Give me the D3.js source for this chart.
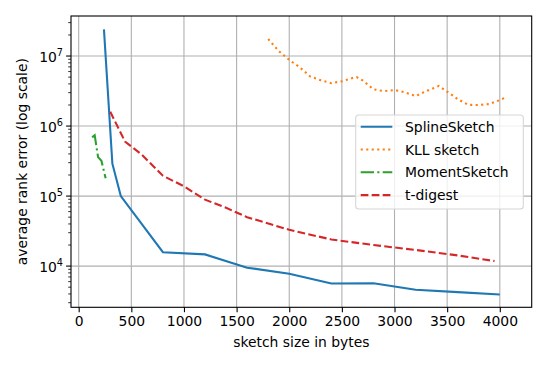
<!DOCTYPE html>
<html>
<head>
<meta charset="utf-8">
<script src="https://cdn.jsdelivr.net/npm/d3@7"></script>
<style>
  html, body { margin: 0; padding: 0; background: #fff; }
  svg { display: block; font-family: "DejaVu Sans", sans-serif; }
</style>
</head>
<body>
<svg id="chart"></svg>
<script>
// values
const splineX = [240, 320, 400, 800, 1200, 1600, 2000, 2400, 2800, 3200, 3600, 4000];
const splineY = [2.4e7, 2.9e5, 1.0e5, 1.58e4, 1.47e4, 9.5e3, 7.8e3, 5.65e3, 5.7e3, 4.6e3, 4.25e3, 3.93e3];

const kllX = [1800, 1900, 2000, 2100, 2200, 2300, 2400, 2500, 2600, 2640, 2700, 2800, 2900,
  3000, 3100, 3200, 3300, 3420, 3500, 3600, 3700, 3800, 3900, 4000, 4070];
const kllY = [1.75e7, 1.18e7, 8.8e6, 6.9e6, 5.1e6, 4.5e6, 4.1e6, 4.35e6, 4.85e6, 5.0e6, 4.45e6, 3.35e6, 3.15e6,
  3.27e6, 3.03e6, 2.68e6, 3.15e6, 3.73e6, 3.1e6, 2.43e6, 2.01e6, 2.0e6, 2.06e6, 2.35e6, 2.62e6];

const momentX = [128, 152, 184, 216, 256];
const momentY = [6.9e5, 7.4e5, 3.6e5, 3.2e5, 1.8e5];

const tdigestX = [300, 440, 600, 800, 1000, 1200, 1400, 1600, 2000, 2400, 2800, 3200, 3600, 3950];
const tdigestY = [1.6e6, 6.0e5, 3.9e5, 1.95e5, 1.38e5, 8.9e4, 6.8e4, 5.0e4, 3.3e4, 2.4e4, 2.0e4, 1.7e4, 1.42e4, 1.18e4];

const xTicks = [0, 500, 1000, 1500, 2000, 2500, 3000, 3500, 4000];
const yTickExps = [4, 5, 6, 7];

const width = 548, height = 366;
const margin = { top: 16, right: 16.3, bottom: 58.7, left: 71 };
const fontSize = 13.9;

const svg = d3.select('#chart').attr('width', width).attr('height', height);

const x = d3.scaleLinear()
  .domain([-73, 4303])
  .range([margin.left, width - margin.right]);

const y = d3.scaleLog()
  .domain([2580, 3.73e7])
  .range([height - margin.bottom, margin.top]);

const series = [
  { name: 'SplineSketch', xs: splineX, ys: splineY, color: '#1f77b4', dash: null },
  { name: 'KLL sketch', xs: kllX, ys: kllY, color: '#ff7f0e', dash: '2.1,3.4' },
  { name: 'MomentSketch', xs: momentX, ys: momentY, color: '#2ca02c', dash: '13.3,3.3,2.1,3.3' },
  { name: 't-digest', xs: tdigestX, ys: tdigestY, color: '#d62728', dash: '7.7,3.3' }
];

// grid
const grid = svg.append('g');
grid.selectAll('line.gx')
  .data(xTicks)
  .join('line')
  .attr('x1', d => x(d)).attr('x2', d => x(d))
  .attr('y1', margin.top).attr('y2', height - margin.bottom)
  .attr('stroke', '#b0b0b0').attr('stroke-width', 1.1);
grid.selectAll('line.gy')
  .data(yTickExps)
  .join('line')
  .attr('x1', margin.left).attr('x2', width - margin.right)
  .attr('y1', d => y(Math.pow(10, d))).attr('y2', d => y(Math.pow(10, d)))
  .attr('stroke', '#b0b0b0').attr('stroke-width', 1.1);

// lines
const line = d3.line().x(d => x(d[0])).y(d => y(d[1]));
svg.append('g')
  .selectAll('path')
  .data(series)
  .join('path')
  .attr('d', s => line(s.xs.map((v, i) => [v, s.ys[i]])))
  .attr('fill', 'none')
  .attr('stroke', s => s.color)
  .attr('stroke-width', 2.08)
  .attr('stroke-dasharray', s => s.dash);

// x axis
const xAxis = svg.append('g')
  .attr('transform', `translate(0,${height - margin.bottom})`)
  .call(d3.axisBottom(x).tickValues(xTicks).tickSize(4.9).tickPadding(3.5).tickFormat(d3.format('d')));
xAxis.select('.domain').remove();
xAxis.selectAll('.tick line').attr('stroke-width', 1.1);
xAxis.selectAll('.tick text')
  .attr('font-size', fontSize).attr('font-family', 'DejaVu Sans').attr('fill', '#000');

// y axis: minor ticks then decade labels with superscripts
const minor = [];
for (let e = 3; e <= 7; e++) {
  for (let m = 2; m <= 9; m++) {
    const v = m * Math.pow(10, e);
    if (v >= y.domain()[0] && v <= y.domain()[1]) minor.push(v);
  }
}
const yAxis = svg.append('g').attr('transform', `translate(${margin.left},0)`);
yAxis.selectAll('line.minor')
  .data(minor)
  .join('line')
  .attr('x1', -2.8).attr('x2', 0)
  .attr('y1', d => y(d)).attr('y2', d => y(d))
  .attr('stroke', '#000').attr('stroke-width', 0.8);
yAxis.selectAll('line.major')
  .data(yTickExps)
  .join('line')
  .attr('x1', -4.9).attr('x2', 0)
  .attr('y1', d => y(Math.pow(10, d))).attr('y2', d => y(Math.pow(10, d)))
  .attr('stroke', '#000').attr('stroke-width', 1.1);
const yLabels = yAxis.selectAll('text.ytick')
  .data(yTickExps)
  .join('text')
  .attr('x', -8)
  .attr('y', d => y(Math.pow(10, d)) + 6.3)
  .attr('text-anchor', 'end')
  .attr('font-size', fontSize)
  .attr('fill', '#000');
yLabels.append('tspan').text('10');
yLabels.append('tspan').attr('dy', -6).attr('font-size', 9.7).text(d => d);

// frame
svg.append('rect')
  .attr('x', margin.left).attr('y', margin.top)
  .attr('width', width - margin.left - margin.right)
  .attr('height', height - margin.top - margin.bottom)
  .attr('fill', 'none').attr('stroke', '#000').attr('stroke-width', 1.1);

// axis titles
svg.append('text')
  .attr('x', (margin.left + width - margin.right) / 2)
  .attr('y', 346.5)
  .attr('text-anchor', 'middle')
  .attr('font-size', fontSize)
  .text('sketch size in bytes');
svg.append('text')
  .attr('transform', `translate(26.5,${(margin.top + height - margin.bottom) / 2}) rotate(-90)`)
  .attr('text-anchor', 'middle')
  .attr('font-size', fontSize)
  .text('average rank error (log scale)');

// legend
const legend = svg.append('g').attr('transform', 'translate(355.7,115)');
legend.append('rect')
  .attr('width', 167.6).attr('height', 94)
  .attr('rx', 3)
  .attr('fill', 'rgba(255,255,255,0.8)')
  .attr('stroke', '#d6d6d6').attr('stroke-width', 1.1);
const items = legend.selectAll('g.item')
  .data(series)
  .join('g')
  .attr('transform', (d, i) => `translate(0,${11.7 + i * 22.8})`);
items.append('line')
  .attr('x1', 5).attr('x2', 36.6)
  .attr('stroke', d => d.color)
  .attr('stroke-width', 2.08)
  .attr('stroke-dasharray', d => d.dash);
items.append('text')
  .attr('x', 49.3).attr('y', 5)
  .attr('font-size', fontSize)
  .text(d => d.name);
</script>
</body>
</html>
